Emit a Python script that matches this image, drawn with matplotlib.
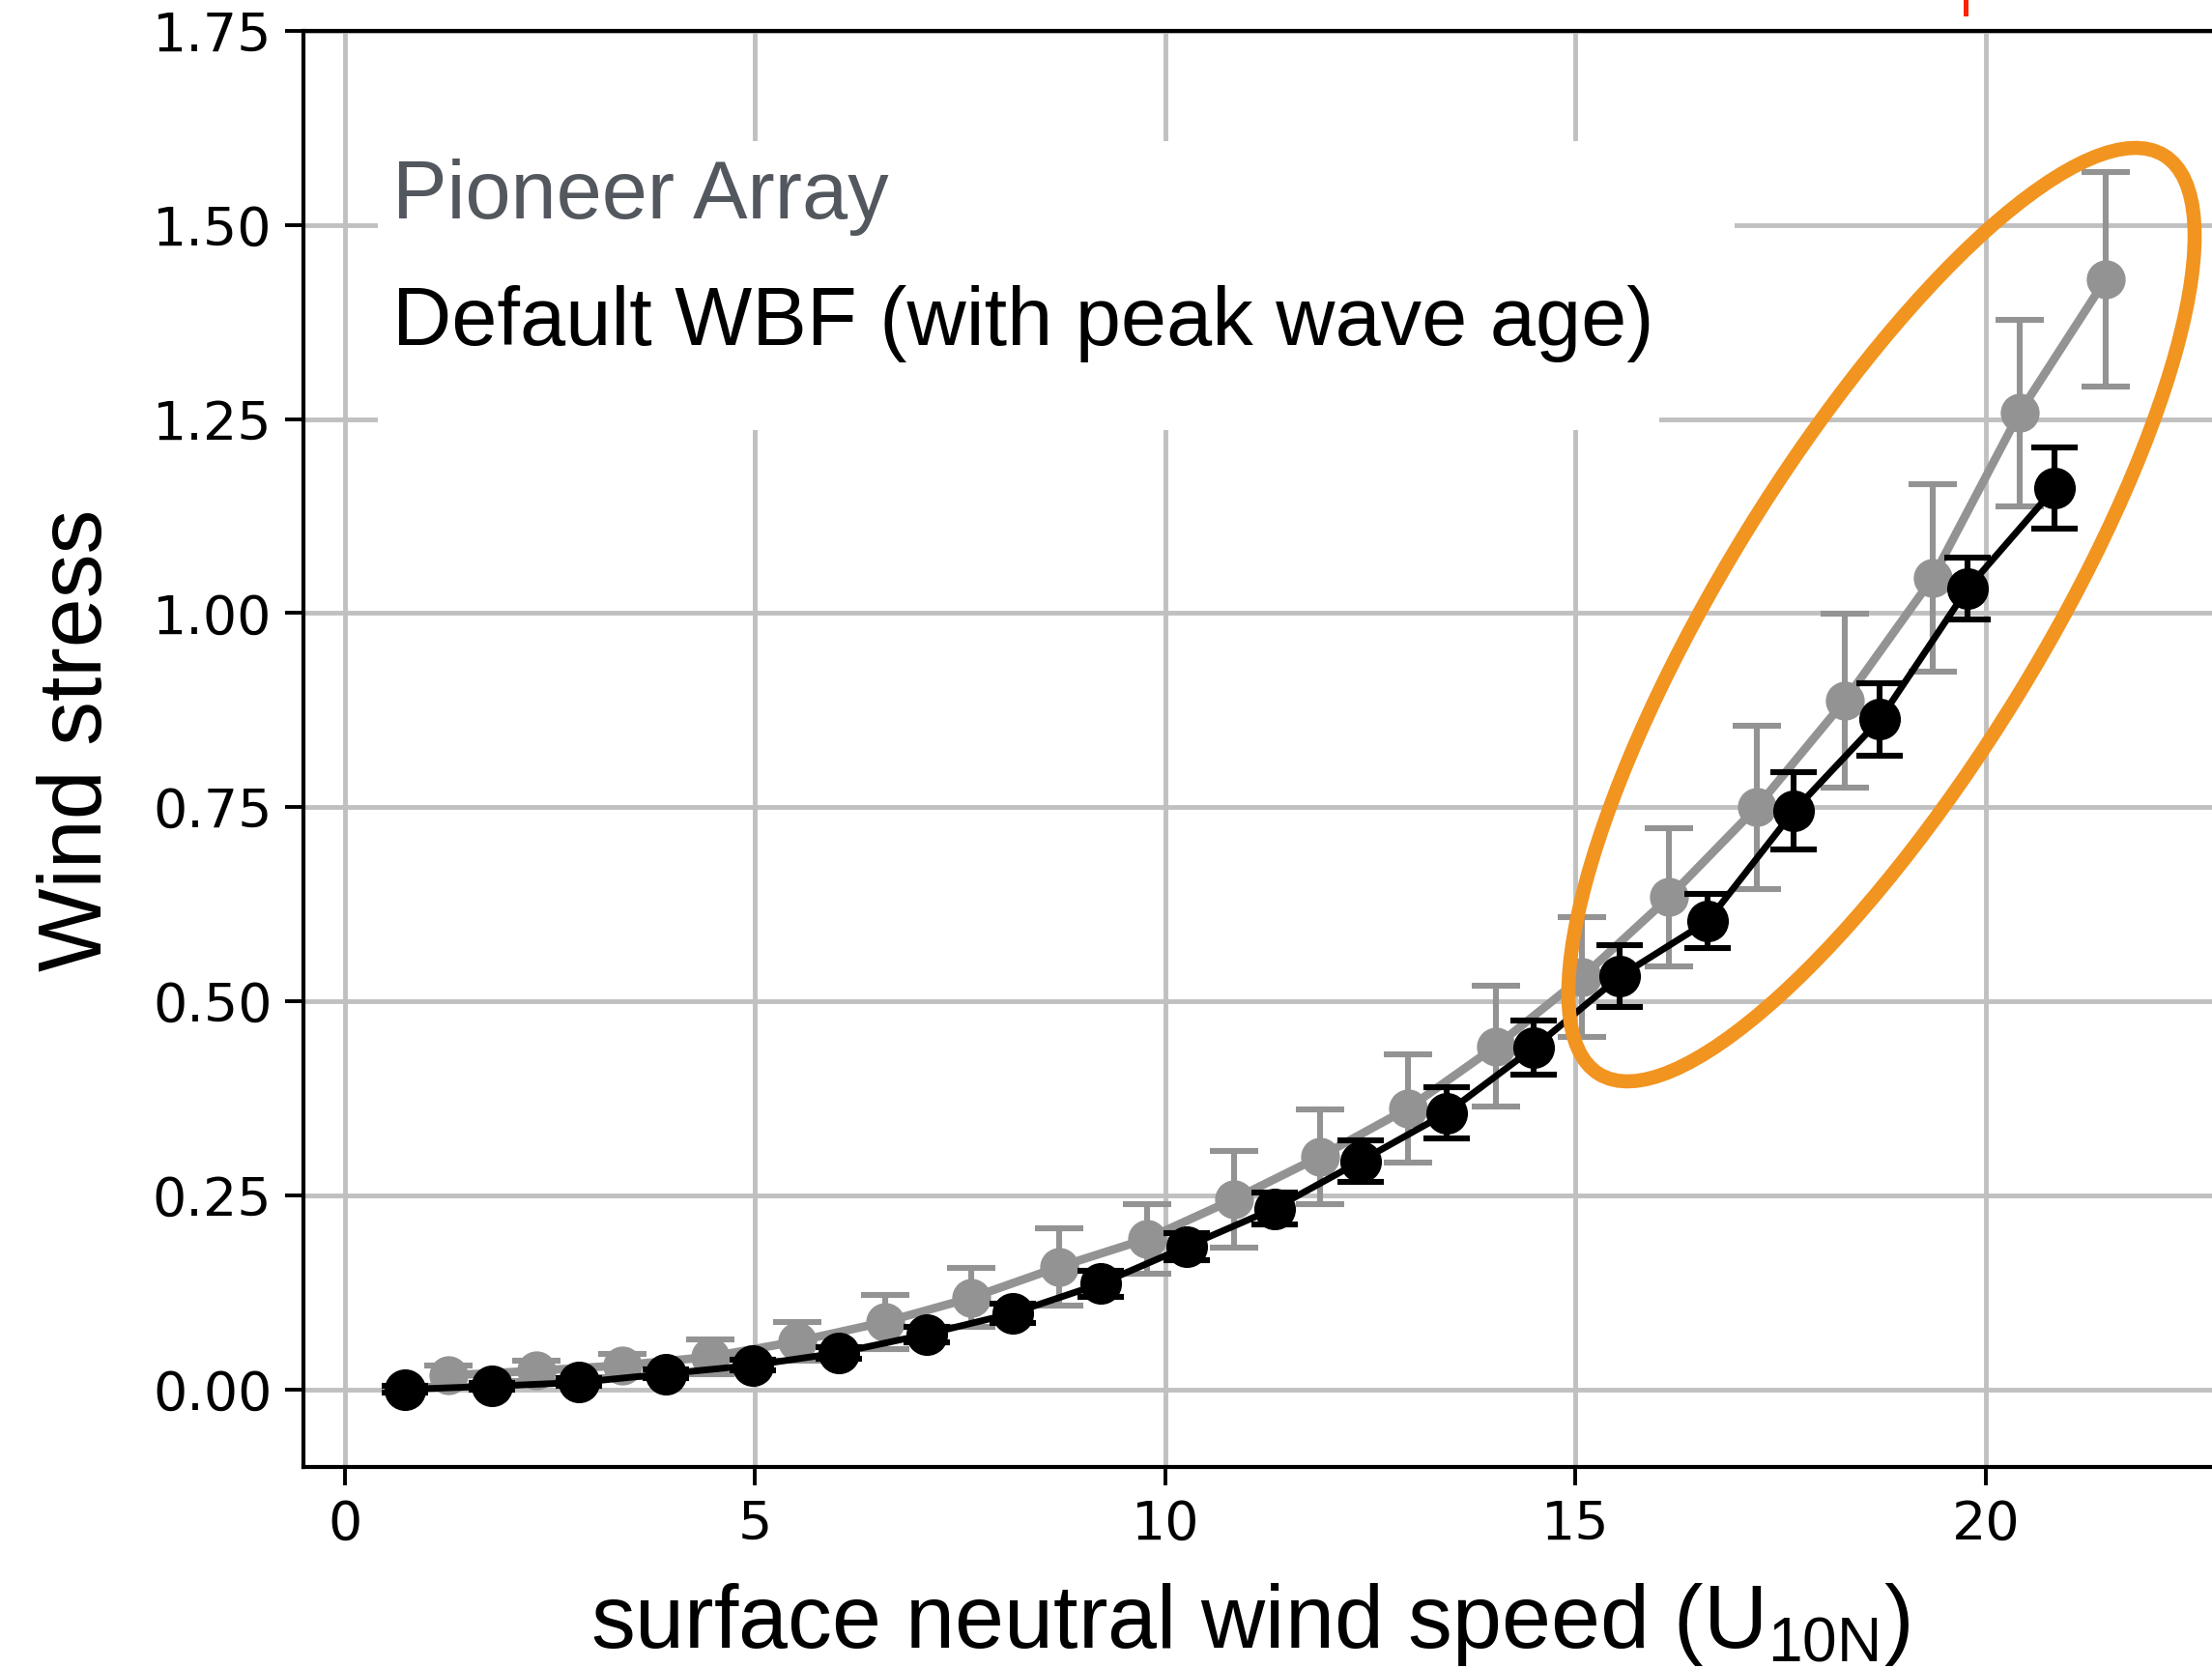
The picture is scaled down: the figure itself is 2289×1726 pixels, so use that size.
import matplotlib
matplotlib.use("Agg")
import matplotlib.pyplot as plt
from matplotlib.patches import Ellipse, Rectangle
from matplotlib.lines import Line2D

# wind stress binned by U10N
wbf_x = [0.74, 1.79, 2.86, 3.91, 4.97, 6.02, 7.09, 8.14, 9.21, 10.26,
         11.33, 12.38, 13.43, 14.49, 15.54, 16.61, 17.66, 18.71, 19.78, 20.84]
wbf_y = [0.000, 0.004, 0.009, 0.020, 0.031, 0.047, 0.071, 0.098, 0.136, 0.184,
         0.233, 0.294, 0.356, 0.440, 0.532, 0.603, 0.745, 0.863, 1.032, 1.161]
wbf_err = [0.004, 0.004, 0.005, 0.006, 0.007, 0.008, 0.010, 0.012, 0.017, 0.017,
           0.021, 0.027, 0.033, 0.035, 0.040, 0.035, 0.050, 0.047, 0.040, 0.052]

pio_x = [1.27, 2.34, 3.39, 4.46, 5.52, 6.59, 7.64, 8.71, 9.78, 10.84,
         11.89, 12.96, 14.03, 15.08, 16.14, 17.21, 18.28, 19.35, 20.41, 21.46]
pio_y = [0.018, 0.024, 0.031, 0.042, 0.062, 0.087, 0.118, 0.158, 0.194, 0.245,
         0.300, 0.362, 0.442, 0.531, 0.634, 0.750, 0.887, 1.045, 1.258, 1.430]
pio_err = [0.013, 0.013, 0.015, 0.022, 0.025, 0.035, 0.038, 0.050, 0.045, 0.062,
           0.061, 0.070, 0.078, 0.077, 0.089, 0.105, 0.112, 0.121, 0.120, 0.138]

yticks = [0.00, 0.25, 0.50, 0.75, 1.00, 1.25, 1.50, 1.75]
xticks = [0, 5, 10, 15, 20, 25]

label_font = ['Liberation Sans', 'DejaVu Sans']
plt.rcParams['mathtext.default'] = 'regular'

fig = plt.figure(figsize=(22.89, 17.26), dpi=100)
# axes runs past the right edge of the figure (cropped original)
ax = fig.add_axes([0.1372, 0.1205, 0.8904, 0.8610])

grey = '#939393'
ax.errorbar(pio_x, pio_y, yerr=pio_err, color=grey, lw=6.3, marker='o', ms=28,
            elinewidth=4.4, capsize=18, capthick=4.4, zorder=3)
ax.errorbar(wbf_x, wbf_y, yerr=wbf_err, color='black', lw=5, marker='o', ms=30,
            elinewidth=4.4, capsize=17, capthick=4.4, zorder=4)

ax.set_xticks(xticks)
ax.set_yticks(yticks)
ax.set_yticklabels(['%.2f' % t for t in yticks])
ax.set_xlim(-0.5, 23.5)
ax.set_ylim(-0.1, 1.75)
ax.tick_params(labelsize=40, length=13.5, width=2.8, pad=10)
for s in ax.spines.values():
    s.set_linewidth(3)
ax.set_axisbelow(True)
ax.grid(True, color='#c0c0c0', lw=3.5)

# white boxes behind the labels (they hide the grid)
ax.add_patch(Rectangle((0.41, 1.463), 16.53, 0.145, facecolor='white', edgecolor='none', zorder=1))
ax.add_patch(Rectangle((0.41, 1.236), 15.61, 0.23, facecolor='white', edgecolor='none', zorder=1))

ax.text(0.585, 1.508, 'Pioneer Array', color='#53575e', fontsize=61,
        family=label_font, va='baseline', zorder=5)
ax.text(0.585, 1.345, 'Default WBF (with peak wave age)', color='black', fontsize=61,
        family=label_font, va='baseline', zorder=5)

fig.text(0.0459, 0.556, 'Wind stress', rotation=90, rotation_mode='anchor',
         ha='center', va='baseline', fontsize=66, family=label_font)
fig.text(0.565, 0.0122, 'surface neutral wind speed (U$_{10N}$)', ha='center',
         va='baseline', fontsize=66, family=label_font)

# orange highlight around the high wind bins
fig.add_artist(Ellipse((19.47, 10.90), 11.16, 3.28, angle=58.4, fill=False,
                       edgecolor='#f29420', lw=10.5, transform=fig.dpi_scale_trans))
fig.add_artist(Line2D([0.8886, 0.8886], [1.0, 0.9919], color='#ff2200', lw=3.6))

fig.savefig('out.png', dpi=100)
